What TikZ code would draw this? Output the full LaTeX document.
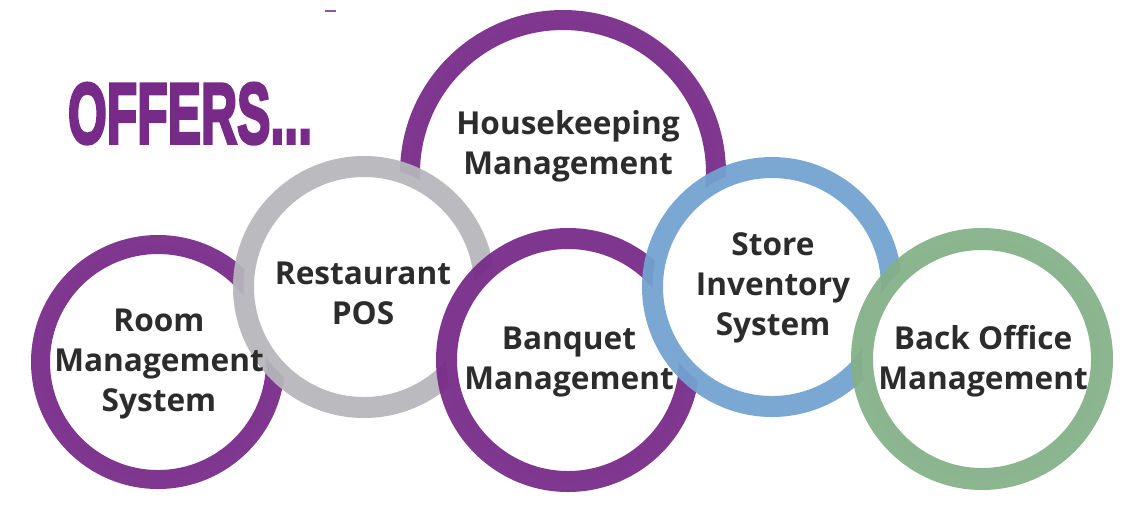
\documentclass[tikz,border=0pt]{standalone}
\usepackage{fontspec}
\newfontfamily\labelfont{Open Sans}
\newfontfamily\offersfont[FakeBold=4]{Liberation Sans}
\usepackage{tikz}
\tikzset{
  every node/.style = {
    inner sep = 0pt,
    outer sep = 0pt
  }
}
\usetikzlibrary{
calc
}
\definecolor{offerpurple}{RGB}{120,42,137}
\definecolor{posgray}{RGB}{182,182,187}
\definecolor{storeblue}{RGB}{114,163,208}
\definecolor{officegreen}{RGB}{132,177,136}
\definecolor{labelgray}{RGB}{44,44,44}

\begin{document}
\begin{tikzpicture}[
        x = 0.5pt,
        y = -0.5pt,
        ring/.style={
          fill = white,
          draw opacity = 0.94,
        },
        ring label/.style={
          align = center,
          text = labelgray,
          font = \labelfont\bfseries\fontsize{15.8}{20}\selectfont,
        },
        ]
        \useasboundingbox (0,0) rectangle (1143,509);
        % circle centres
        \coordinate (c-house) at (563,173);
        \coordinate (c-room) at (158,362);
        \coordinate (c-rest) at (364,287);
        \coordinate (c-banq) at (568,360);
        \coordinate (c-store) at (772,287);
        \coordinate (c-back) at (982,359);
        % rings, back to front
        \draw [ring, draw=offerpurple, line width=10pt] (c-house) circle (153);
        \draw [ring, draw=offerpurple, line width=9.5pt] (c-room) circle (117.5);
        \draw [ring, draw=posgray, line width=10.5pt] (c-rest) circle (120.5);
        \draw [ring, draw=offerpurple, line width=10.5pt] (c-banq) circle (121.5);
        \draw [ring, draw=storeblue, line width=10.5pt] (c-store) circle (119.5);
        \draw [ring, draw=officegreen, line width=11pt] (c-back) circle (120);
        % labels
        \path
        node [ring label, name=node-house] at ($(c-house)+(5,-27)$)
        {Housekeeping\\Management}
        node [ring label, name=node-room] at ($(c-room)+(1,2)$)
        {Room\\Management\\System}
        node [ring label, name=node-rest] at ($(c-rest)+(-1,6)$)
        {Restaurant\\POS}
        node [ring label, name=node-banq] at ($(c-banq)+(1,2)$)
        {Banquet\\Management}
        node [ring label, name=node-store] at ($(c-store)+(1,1)$)
        {Store\\Inventory\\System}
        node [ring label, name=node-back] at ($(c-back)+(1,2)$)
        {Back Office\\Management};
        \node [anchor=south west, text=offerpurple, name=node-offers] at (68,144)
        {\resizebox{122pt}{30pt}{\offersfont\bfseries OFFERS...}};
        \draw [offerpurple!80, line width=1pt] (325,11) -- (336,11);
      \end{tikzpicture}
\end{document}
